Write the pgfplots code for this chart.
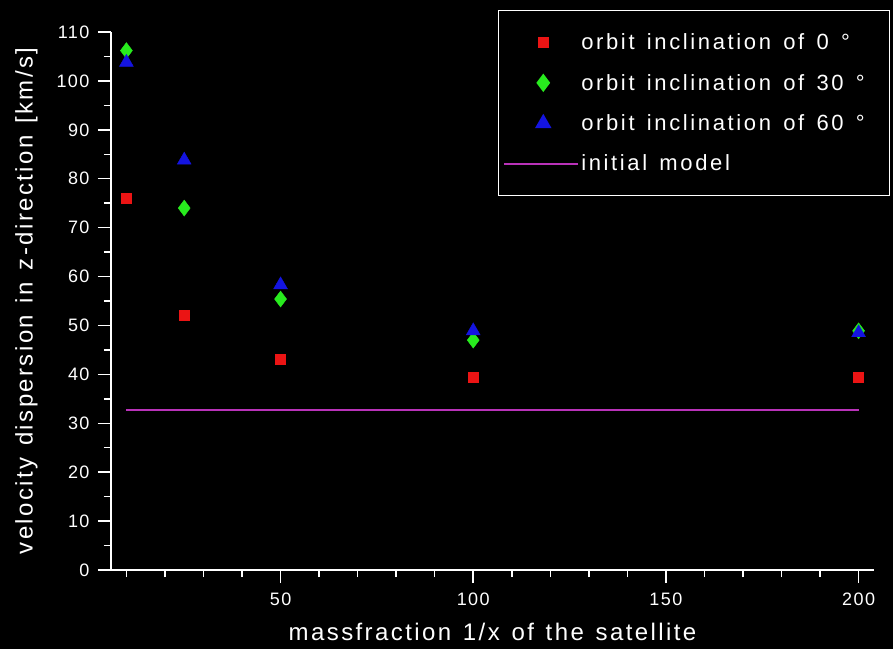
\documentclass[border=0pt]{standalone}
\usepackage{fontspec}
\setmainfont{Liberation Sans}
\newfontfamily\legfont[LetterSpace=12,WordSpace=1.4]{Liberation Sans}
\newfontfamily\labfont[LetterSpace=10,WordSpace=1.3]{Liberation Sans}
\newfontfamily\tickfont[LetterSpace=8]{Liberation Sans}
\usepackage{pgfplots}
\pgfplotsset{compat=1.18}
\definecolor{mred}{RGB}{235,20,20}
\definecolor{mgreen}{RGB}{40,235,30}
\definecolor{mblue}{RGB}{20,20,225}
\definecolor{mmag}{RGB}{185,50,185}
\pgfplotsset{
  markleg/.style={legend image code/.code={\draw[mark repeat=2,mark phase=2,##1] plot coordinates {(0pt,0pt)(39pt,0pt)(78pt,0pt)};}},
  lineleg/.style={legend image code/.code={\draw[##1] (0pt,0pt) -- (74pt,0pt);}},
}
\begin{document}
\begin{tikzpicture}
\fill[black] (0,0) rectangle (893pt,649pt);
\begin{axis}[
  at={(111pt,79pt)}, anchor=south west,
  scale only axis, width=763pt, height=538pt,
  xmin=6, xmax=204, ymin=0, ymax=110,
  axis lines=left,
  axis line style={white, line width=1.5pt, -},
  xtick={50,100,150,200},
  minor xtick={10,20,...,200},
  ytick={0,10,...,110},
  minor ytick={5,15,...,105},
  tick align=outside,
  major tick length=13pt, minor tick length=7pt,
  every tick/.style={white, line width=1.5pt},
  tick label style={white, font=\tickfont\fontsize{18}{20}\selectfont},
  xticklabel style={yshift=-6pt},
  yticklabel style={xshift=-5pt},
  /pgf/number format/assume math mode=true,
  xlabel={massfraction 1/x of the satellite},
  ylabel={velocity dispersion in z-direction [km/s]},
  label style={white, font=\labfont\fontsize{24}{28}\selectfont},
  xlabel style={inner sep=0pt, yshift=-14pt},
  ylabel style={yshift=12pt},
  legend style={at={(1.021,1.041)}, anchor=north east, fill=black, draw=white,
    line width=1.5pt, text=white, font=\legfont\fontsize{22}{24}\selectfont,
    row sep=19pt, inner xsep=5pt, inner ysep=21pt},
  legend cell align=left,
]
\addplot[only marks, mark=square*, mark size=5pt, color=mred, markleg]
  coordinates {(10,76) (25,52) (50,43.2) (100,39.5) (200,39.5)};
\addlegendentry{\makebox[301pt][l]{orbit inclination of 0 °}}
\addplot[only marks, mark=diamond*, mark size=8pt, color=mgreen, markleg]
  coordinates {(10,106.2) (25,74) (50,55.4) (100,47) (200,48.9)};
\addlegendentry{orbit inclination of 30 °}
\addplot[only marks, mark=triangle*, mark size=8pt, color=mblue, markleg]
  coordinates {(10,103.8) (25,83.8) (50,58.3) (100,48.9) (200,48.5)};
\addlegendentry{orbit inclination of 60 °}
\addplot[mmag, line width=2pt, mark=none, lineleg]
  coordinates {(10,32.7) (200,32.7)};
\addlegendentry{initial model}
\end{axis}
\pgfresetboundingbox
\useasboundingbox (0,0) rectangle (893pt,649pt);
\end{tikzpicture}
\end{document}
